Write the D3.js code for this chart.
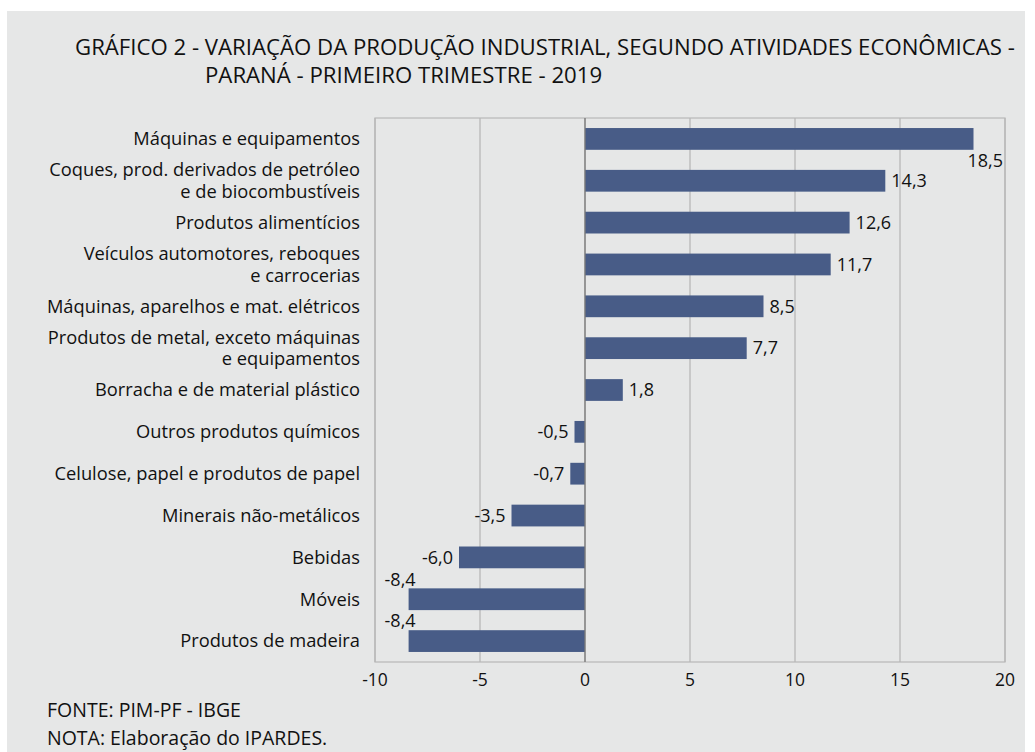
<!DOCTYPE html>
<html>
<head>
<meta charset="utf-8">
<script src="https://cdn.jsdelivr.net/npm/d3@7"></script>
<style>
  body { margin: 0; background: #fff; }
  text { font-family: "Open Sans", sans-serif; fill: #111; }
</style>
</head>
<body>
<svg id="chart"></svg>
<script>
// categorias (de cima para baixo) e variação %
var categories = [
  ["Máquinas e equipamentos"],
  ["Coques, prod. derivados de petróleo", "e de biocombustíveis"],
  ["Produtos alimentícios"],
  ["Veículos automotores, reboques", "e carrocerias"],
  ["Máquinas, aparelhos e mat. elétricos"],
  ["Produtos de metal, exceto máquinas", "e equipamentos"],
  ["Borracha e de material plástico"],
  ["Outros produtos químicos"],
  ["Celulose, papel e produtos de papel"],
  ["Minerais não-metálicos"],
  ["Bebidas"],
  ["Móveis"],
  ["Produtos de madeira"]
]
var values = [18.5, 14.3, 12.6, 11.7, 8.5, 7.7, 1.8, -0.5, -0.7, -3.5, -6.0, -8.4, -8.4]
var xTicks = [-10, -5, 0, 5, 10, 15, 20]

var titleLines = [
  "GRÁFICO 2 - VARIAÇÃO DA PRODUÇÃO INDUSTRIAL, SEGUNDO ATIVIDADES ECONÔMICAS -",
  "PARANÁ - PRIMEIRO TRIMESTRE - 2019"
]
var footLines = ["FONTE: PIM-PF - IBGE", "NOTA: Elaboração do IPARDES."]

var svg = d3.select("#chart")
    .attr("width", 1035)
    .attr("height", 752)

//fundo cinza
svg.append("rect")
    .attr("x", 7).attr("y", 11)
    .attr("width", 1018).attr("height", 741)
    .attr("fill", "#e6e7e7")

var margin = {top: 118, left: 375, right: 30, bottom: 90}
var plotW = 1005 - margin.left
var plotH = 662 - margin.top

var x = d3.scaleLinear()
    .domain([-10, 20])
    .range([0, plotW])

var y = d3.scaleBand()
    .domain(d3.range(values.length))
    .range([0, plotH])
    .paddingInner(0.48)
    .paddingOuter(0.24)

var g = svg.append("g")
    .attr("transform", `translate(${margin.left}, ${margin.top})`)

//grade vertical
g.selectAll(".grid")
    .data(xTicks)
    .enter()
    .append("line")
    .attr("x1", d => x(d)).attr("x2", d => x(d))
    .attr("y1", 0).attr("y2", plotH)
    .attr("stroke", "#b4b4b4")
    .attr("stroke-width", 1.2)

//borda
g.append("rect")
    .attr("width", plotW).attr("height", plotH)
    .attr("fill", "none")
    .attr("stroke", "#b8b8b8")
    .attr("stroke-width", 1.2)

//barras
g.selectAll(".bar")
    .data(values)
    .enter()
    .append("rect")
    .attr("x", d => x(Math.min(0, d)))
    .attr("width", d => Math.abs(x(d) - x(0)))
    .attr("y", (d, i) => y(i))
    .attr("height", y.bandwidth())
    .attr("fill", "#485c87")

//linha do zero
g.append("line")
    .attr("x1", x(0)).attr("x2", x(0))
    .attr("y1", 0).attr("y2", plotH)
    .attr("stroke", "#7a7a7a")
    .attr("stroke-width", 1.3)

var fmt = d => d3.format(".1f")(d).replace(".", ",").replace("−", "-")

//rótulos de valores
g.selectAll(".val")
    .data(values)
    .enter()
    .append("text")
    .attr("font-size", 18)
    .attr("dy", "0.35em")
    .each(function (d, i) {
        var t = d3.select(this).text(fmt(d))
        var w = this.getComputedTextLength()
        var cy = y(i) + y.bandwidth() / 2
        if (d >= 0) {
            if (x(d) + 6 + w > plotW) {
                //sem espaço: abaixo da barra
                t.attr("x", plotW - 2).attr("y", cy + 22).attr("text-anchor", "end")
            } else {
                t.attr("x", x(d) + 6).attr("y", cy).attr("text-anchor", "start")
            }
        } else {
            if (x(d) - 6 - w < 0) {
                //sem espaço: acima da barra
                t.attr("x", x(d) + 7).attr("y", cy - 20).attr("text-anchor", "end")
            } else {
                t.attr("x", x(d) - 6).attr("y", cy).attr("text-anchor", "end")
            }
        }
    })

//rótulos das categorias (uma text por linha)
var lineGap = 21.5
categories.forEach(function (lines, i) {
    var cy = y(i) + y.bandwidth() / 2
    lines.forEach(function (line, j) {
        g.append("text")
            .attr("text-anchor", "end")
            .attr("font-size", 18.3)
            .attr("x", -15)
            .attr("y", cy + (j - (lines.length - 1) / 2) * lineGap)
            .attr("dy", "0.35em")
            .text(line)
    })
})

//eixo x
g.selectAll(".tick")
    .data(xTicks)
    .enter()
    .append("text")
    .attr("text-anchor", "middle")
    .attr("font-size", 17.5)
    .attr("x", d => x(d))
    .attr("y", plotH + 24)
    .text(d => d)

//título
svg.selectAll(".title")
    .data(titleLines)
    .enter()
    .append("text")
    .attr("font-size", 22.2)
    .attr("x", (d, i) => i == 0 ? 75 : 205)
    .attr("y", (d, i) => 55 + i * 28)
    .text(d => d)

//rodapé
svg.selectAll(".foot")
    .data(footLines)
    .enter()
    .append("text")
    .attr("font-size", 19.5)
    .attr("x", 47)
    .attr("y", (d, i) => 717 + i * 28)
    .text(d => d)
</script>
</body>
</html>
